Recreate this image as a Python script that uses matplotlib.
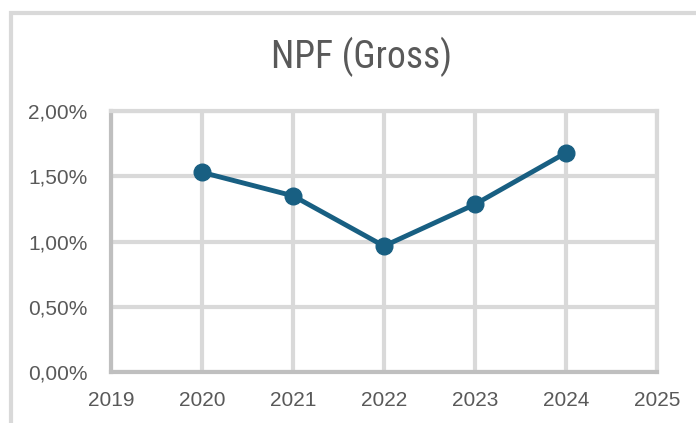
import matplotlib
matplotlib.use("Agg")
import matplotlib.pyplot as plt
from matplotlib.ticker import FuncFormatter, MultipleLocator
from matplotlib.patches import Rectangle

years = [2020, 2021, 2022, 2023, 2024]
npf = [1.53, 1.35, 0.965, 1.285, 1.68]
title = "NPF (Gross)"

fig = plt.figure(figsize=(6.96, 4.23), dpi=100)
ax = fig.add_axes([111 / 696, 1 - 372 / 423, 546 / 696, 261 / 423])

# outer chart frame (only left and top are visible in the crop)
fig.patches.append(Rectangle((11 / 696, -0.1), 1.2, 1 - 13 / 423 + 0.1,
                             transform=fig.transFigure, fill=False,
                             edgecolor="#D9D9D9", linewidth=3, zorder=0))

ax.plot(years, npf, color="#185F82", linewidth=3.5, marker="o",
        markersize=12, zorder=5, clip_on=False)

ax.set_xlim(2019, 2025)
ax.set_ylim(0, 2.0)
ax.xaxis.set_major_locator(MultipleLocator(1))
ax.yaxis.set_major_locator(MultipleLocator(0.5))
ax.yaxis.set_major_formatter(FuncFormatter(lambda v, p: f"{v:.2f}".replace(".", ",") + "%"))

ax.grid(True, color="#D9D9D9", linewidth=3)
ax.set_axisbelow(True)
for s in ["top", "right"]:
    ax.spines[s].set_color("#D9D9D9")
    ax.spines[s].set_linewidth(3)
for s in ["left", "bottom"]:
    ax.spines[s].set_color("#BFBFBF")
    ax.spines[s].set_linewidth(3)

ax.tick_params(length=0, labelsize=15, labelcolor="#595959")
ax.tick_params(axis="y", pad=17)
ax.tick_params(axis="x", pad=14)
for lab in ax.get_xticklabels() + ax.get_yticklabels():
    lab.set_family(["Liberation Sans", "DejaVu Sans"])

fig.text(362 / 696, 1 - 57 / 423, title, ha="center", va="center",
         fontsize=27, color="#595959",
         family=["Liberation Sans Narrow", "Roboto Condensed", "Liberation Sans"])

fig.savefig("out.png", dpi=100)
